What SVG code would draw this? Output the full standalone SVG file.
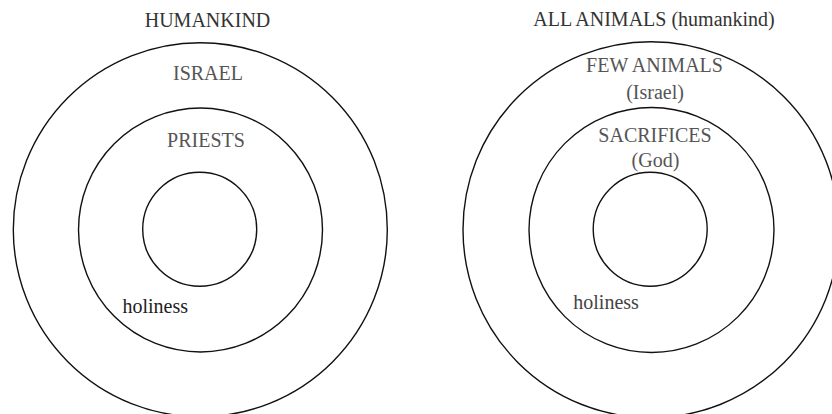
<svg xmlns="http://www.w3.org/2000/svg" width="832" height="414" viewBox="0 0 832 414" font-family="'Liberation Serif', 'DejaVu Serif', serif">
<style>
.ring{fill:none;stroke:#111;stroke-width:1.4}
text{font-family:'Liberation Serif','DejaVu Serif',serif;font-size:20px;text-anchor:middle}
.h{fill:#333}
.g{fill:#555}
.k{fill:#222;text-anchor:start}
.kg{fill:#444;text-anchor:start}
</style>
<rect width="832" height="414" fill="#fff"/>
<g id="left">
<g id="humankind"><circle class="ring" cx="200.3" cy="229.7" r="187"/><text class="h" x="207.5" y="27">HUMANKIND</text></g>
<g id="israel"><circle class="ring" cx="200.5" cy="230" r="122"/><text class="g" x="208" y="80">ISRAEL</text></g>
<g id="priests"><circle class="ring" cx="199.7" cy="229.2" r="57"/><text class="g" x="206" y="147">PRIESTS</text></g>
<text class="k" x="122.5" y="313">holiness</text>
</g>
<g id="right">
<g id="all-animals"><circle class="ring" cx="651" cy="229.7" r="188"/><text class="h" x="654" y="26">ALL ANIMALS (humankind)</text></g>
<g id="few-animals"><circle class="ring" cx="651.5" cy="230" r="122.5"/><text class="g" x="654.5" y="71.5">FEW ANIMALS</text><text class="g" x="655" y="99">(Israel)</text></g>
<g id="sacrifices"><circle class="ring" cx="650.2" cy="229.2" r="57"/><text class="g" x="655" y="141.5">SACRIFICES</text><text class="g" x="655.5" y="166.5">(God)</text></g>
<text class="kg" x="573.3" y="309.3">holiness</text>
</g>
<g id="connectors"/>
</svg>
